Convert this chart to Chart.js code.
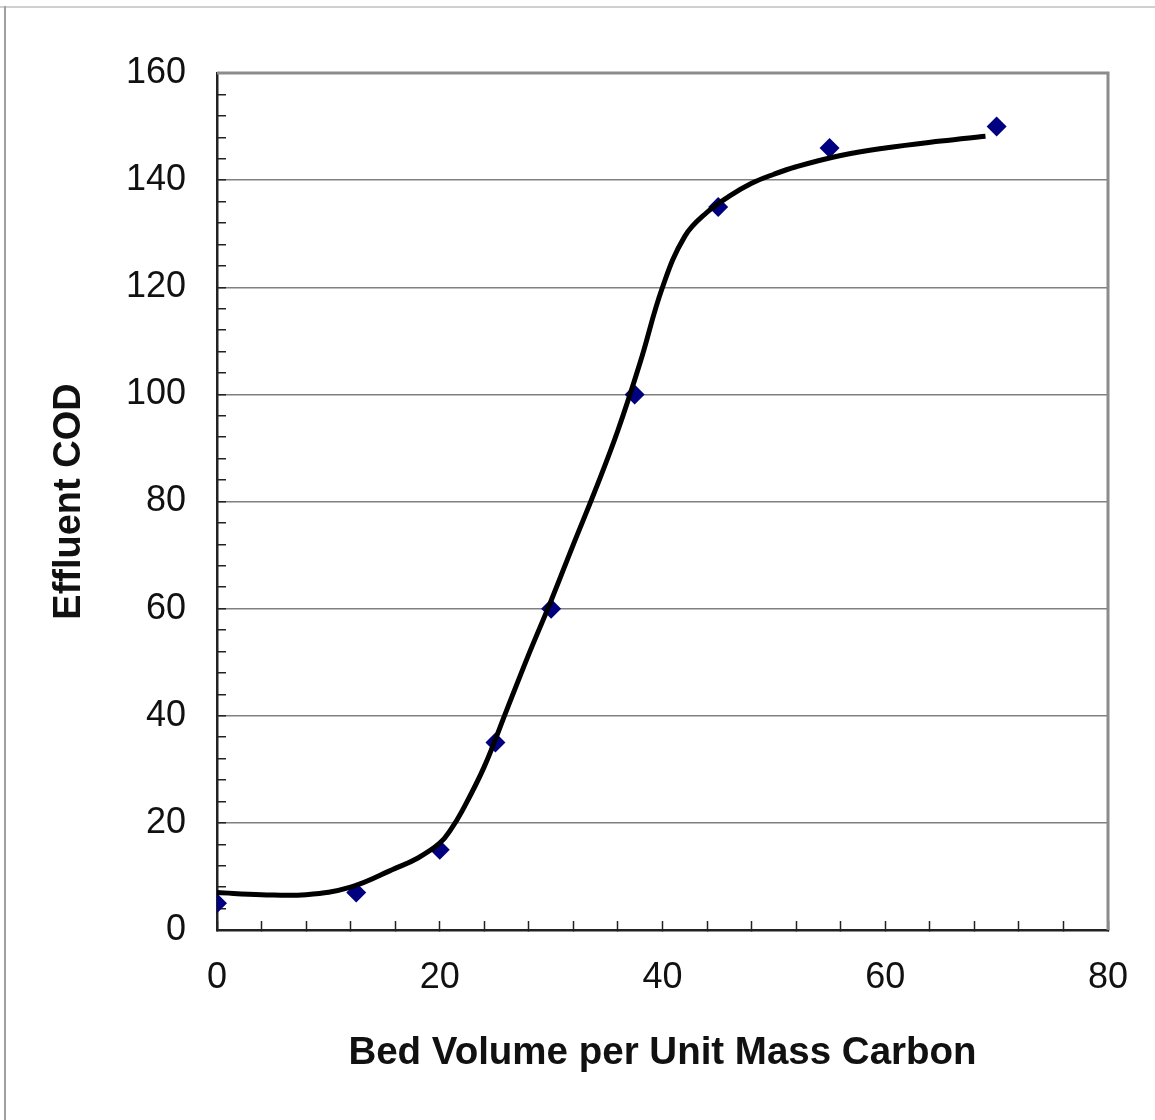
<!DOCTYPE html>
<html lang="en">
<head>
<meta charset="utf-8" />
<title>Effluent COD breakthrough</title>
<script src="https://cdn.jsdelivr.net/npm/chart.js@4.4.0/dist/chart.umd.min.js"></script>
<style>
	html, body { margin: 0; padding: 0; background: #fff; }
	#wrap { position: relative; width: 1155px; height: 1120px; }
</style>
</head>
<body>
<div id="wrap"><canvas id="myChart"></canvas></div>
<script>
	// measured points
	var bedVolume = [0, 12.5, 20, 25, 30, 37.5, 45, 55, 70];
	var effluentCod = [5, 7, 15, 35, 60, 100, 135, 146, 150];

	// hand-drawn trend line
	var fitX = [0, 4, 8, 12, 16, 18, 20, 21, 22, 24, 26, 28, 30, 32, 34, 36, 38, 40, 42, 44, 46, 48, 50, 52, 56, 60, 65, 69];
	var fitY = [7, 6.6, 6.6, 8, 11.5, 13.4, 16.2, 18.8, 22.2, 30.5, 41, 51.5, 61.5, 72, 82.3, 93.3, 106, 120, 129.5, 134, 137, 139.4, 141.1, 142.5, 144.6, 146, 147.3, 148.2];

	var xMin = 0, xMax = 80, xStep = 4, xLabelEvery = 20;
	var yMin = 0, yMax = 160, yStep = 4, yLabelEvery = 20;

	var font = "'Liberation Sans', Arial, sans-serif";

	function toPoints(xs, ys) {
		return xs.map(function (x, i) { return { x: x, y: ys[i] }; });
	}

	// gray page frame + gray top/right border of the plot
	var framePlugin = {
		id: "frame",
		beforeDraw: function (chart) {
			var c = chart.ctx;
			c.save();
			c.strokeStyle = "#d0d0d0";
			c.lineWidth = 2;
			c.beginPath(); c.moveTo(0, 7); c.lineTo(chart.width, 7); c.stroke();
			c.strokeStyle = "#a0a0a0";
			c.beginPath(); c.moveTo(5, 6); c.lineTo(5, chart.height); c.stroke();
			c.restore();
		},
		afterDatasetsDraw: function (chart) {
			var a = chart.chartArea, c = chart.ctx;
			c.save();
			c.strokeStyle = "#8c8c8c";
			c.lineWidth = 3;
			c.beginPath();
			c.moveTo(a.left, a.top);
			c.lineTo(a.right, a.top);
			c.lineTo(a.right, a.bottom);
			c.stroke();
			c.restore();
		}
	};

	var ctx = document.getElementById("myChart").getContext("2d");
	var myChart = new Chart(ctx, {
		type: "scatter",
		data: {
			datasets: [
				{
					label: "Trend",
					data: toPoints(fitX, fitY),
					showLine: true,
					borderColor: "#000",
					borderWidth: 5,
					pointRadius: 0,
					tension: 0.4,
				},
				{
					label: "Effluent COD",
					data: toPoints(bedVolume, effluentCod),
					pointStyle: "rectRot",
					pointRadius: 10,
					pointBackgroundColor: "#000080",
					pointBorderWidth: 0,
				},
			],
		},
		options: {
			responsive: true,
			maintainAspectRatio: false,
			animation: false,
			layout: { padding: { top: 73, right: 47, left: 0, bottom: 0 } },
			plugins: { legend: { display: false }, tooltip: { enabled: false } },
			scales: {
				x: {
					type: "linear",
					min: xMin,
					max: xMax,
					afterFit: function (s) { s.height = 190; s.paddingLeft = 0; s.paddingRight = 0; },
					ticks: {
						stepSize: xStep,
						autoSkip: false,
						maxRotation: 0,
						padding: 35,
						color: "#111",
						font: { family: font, size: 36 },
						callback: function (v) { return v % xLabelEvery === 0 ? v : ""; },
					},
					grid: { drawOnChartArea: false, tickLength: -9, tickColor: "#222", tickWidth: 1.5 },
					border: { color: "#222", width: 2.5 },
					title: {
						display: true,
						text: "Bed Volume per Unit Mass Carbon",
						color: "#111",
						font: { family: font, size: 38.5, weight: "bold" },
						padding: { top: 0, bottom: 44 },
					},
				},
				y: {
					min: yMin,
					max: yMax,
					afterFit: function (s) { s.width = 217; s.paddingTop = 0; s.paddingBottom = 0; },
					ticks: {
						stepSize: yStep,
						autoSkip: false,
						padding: 40,
						color: "#111",
						font: { family: font, size: 36 },
						callback: function (v) { return v % yLabelEvery === 0 ? v : ""; },
					},
					grid: {
						color: function (c) { return c.tick && c.tick.value % yLabelEvery === 0 ? "#808080" : "rgba(0,0,0,0)"; },
						lineWidth: 1.5,
						tickLength: -9,
						tickColor: "#222",
						tickWidth: 1.5,
					},
					border: { color: "#222", width: 2.5 },
					title: {
						display: true,
						text: "Effluent COD",
						color: "#111",
						font: { family: font, size: 38, weight: "bold" },
						padding: { top: 47, bottom: 0 },
					},
				},
			},
		},
		plugins: [framePlugin],
	});
</script>
</body>
</html>
